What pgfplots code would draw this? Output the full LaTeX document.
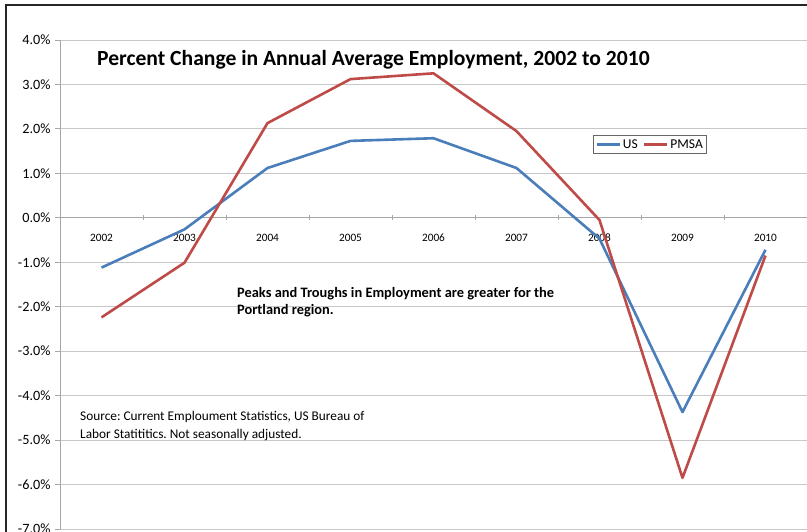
\documentclass[border=0pt]{standalone}
\usepackage{pgfplots}
\pgfplotsset{compat=1.18}
\usepackage{fontspec}
\setmainfont{Carlito}
\frenchspacing
\definecolor{usblue}{RGB}{74,126,187}
\definecolor{pmsared}{RGB}{190,75,72}
\begin{document}
\begin{tikzpicture}
\path[use as bounding box] (0,0) rectangle (807pt,532pt);
\clip (0,0) rectangle (807pt,532pt);
\fill[white] (0,0) rectangle (807pt,532pt);
\begin{axis}[
  at={(60pt,3pt)}, anchor=south west,
  scale only axis, width=747pt, height=489pt,
  xmin=-0.5, xmax=8.5, ymin=-7, ymax=4,
  axis x line*=middle, axis y line*=left,
  axis line style={draw=black!35, line width=0.8pt, -},
  xtick={0,...,8},
  xticklabels={2002,2003,2004,2005,2006,2007,2008,2009,2010},
  minor xtick={0.5,1.5,...,7.5},
  major x tick style={draw=none},
  minor x tick style={draw=black!35, line width=0.8pt},
  xtick align=center,
  minor tick length=5pt,
  xticklabel style={font=\fontsize{11.3}{13}\selectfont, yshift=-10pt},
  ytick={-7,...,4},
  yticklabels={-7.0\%,-6.0\%,-5.0\%,-4.0\%,-3.0\%,-2.0\%,-1.0\%,0.0\%,1.0\%,2.0\%,3.0\%,4.0\%},
  yticklabel style={font=\fontsize{14.2}{16}\selectfont, xshift=-1pt},
  ytick align=outside, major tick length=5pt,
  ytick style={draw=black!35, line width=0.8pt},
  ymajorgrids,
  grid style={draw=black!22, line width=0.9pt},
  legend style={at={(0.7135,0.806)}, anchor=north west, draw=black!60, line width=0.8pt,
    font=\fontsize{13.5}{15}\selectfont, inner sep=2pt,
    /tikz/every even column/.append style={column sep=3pt}},
  legend columns=2,
  legend image code/.code={\draw[#1] (0pt,0pt) -- (23pt,0pt);},
]
\addplot[usblue, line width=2.6pt, line join=round] coordinates {
 (0,-1.12) (1,-0.26) (2,1.12) (3,1.73) (4,1.79) (5,1.12) (6,-0.47) (7,-4.37) (8,-0.72)};
\addlegendentry{US}
\addplot[pmsared, line width=2.6pt, line join=round] coordinates {
 (0,-2.24) (1,-1.01) (2,2.13) (3,3.12) (4,3.25) (5,1.95) (6,-0.05) (7,-5.85) (8,-0.85)};
\addlegendentry{PMSA}
\end{axis}
\node[anchor=west, font=\bfseries\fontsize{21.6}{24}\selectfont, inner sep=0pt] at (97pt,472pt) {Percent Change in Annual Average Employment, 2002 to 2010};
\node[anchor=north west, align=left, font=\bfseries\fontsize{14.4}{17}\selectfont, inner sep=0pt] at (237pt,245pt) {Peaks and Troughs in Employment are greater for the\\Portland region.};
\node[anchor=north west, align=left, font=\fontsize{13.3}{18}\selectfont, inner sep=0pt] at (80pt,121pt) {Source: Current Emploument Statistics, US Bureau of\\Labor Statititics. Not seasonally adjusted.};
\draw[black!85, line width=1.6pt] (6pt,0pt) -- (6pt,527pt) -- (807pt,527pt);
\end{tikzpicture}
\end{document}
